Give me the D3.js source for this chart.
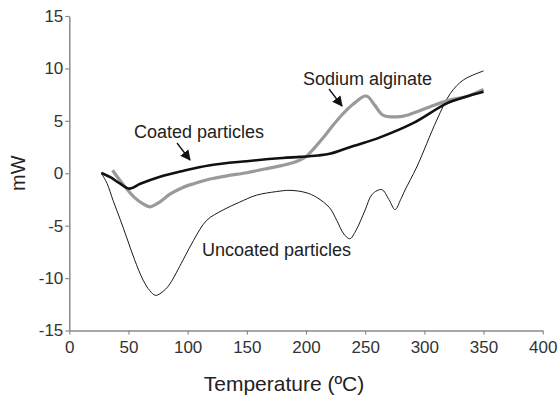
<!DOCTYPE html>
<html>
<head>
<meta charset="utf-8">
<script src="https://cdn.jsdelivr.net/npm/d3@7"></script>
<style>
  body { margin: 0; background: #fff; }
  svg { font-family: "Liberation Sans", Arial, sans-serif; }
</style>
</head>
<body>
<svg id="chart" width="559" height="400"></svg>
<script>
// DSC curves, values
const coatedTemp = [27, 35, 43, 51, 60, 76, 95, 119, 150, 180, 195, 210, 220, 240, 262, 290, 319, 335, 350];
const coatedMW   = [0.03, -0.4, -1.0, -1.47, -1.0, -0.35, 0.2, 0.77, 1.15, 1.45, 1.56, 1.7, 1.85, 2.6, 3.4, 4.75, 6.67, 7.3, 7.78];

const alginateTemp = [36.5, 45, 55, 62, 68, 75, 85, 95, 105, 119, 133, 150, 165, 180, 190, 199, 207, 215, 223, 231.5, 240, 251, 258, 265, 279.5, 292, 305, 322, 335, 350];
const alginateMW   = [0.29, -1.0, -2.3, -2.9, -3.2, -2.85, -2.0, -1.4, -1.0, -0.55, -0.25, 0.05, 0.4, 0.75, 1.05, 1.5, 2.4, 3.45, 4.6, 5.7, 6.6, 7.37, 6.5, 5.55, 5.4, 5.8, 6.35, 7.0, 7.3, 8.0];

const uncoatedTemp = [27, 32, 37, 43, 48.4, 55, 62.4, 68, 73, 80, 85, 96, 105, 116, 130, 144, 158, 175, 186.5, 200, 209, 220, 226, 232, 237, 242, 250, 256, 264, 270, 275.3, 280, 283.7, 293.6, 310.5, 321.9, 333, 350];
const uncoatedMW   = [0.03, -1.0, -2.6, -4.4, -6.1, -8.2, -10.2, -11.2, -11.65, -11.2, -10.55, -8.3, -6.4, -4.5, -3.5, -2.75, -2.1, -1.75, -1.63, -1.85, -2.3, -3.3, -4.5, -5.8, -6.25, -5.5, -3.5, -2.0, -1.56, -2.5, -3.47, -2.5, -1.6, 0.6, 5.07, 7.6, 8.9, 9.76];

const xTicks = [0, 50, 100, 150, 200, 250, 300, 350, 400];
const yTicks = [-15, -10, -5, 0, 5, 10, 15];

const svg = d3.select('#chart');

const x = d3.scaleLinear().domain([0, 400]).range([69.3, 542.7]);
const y = d3.scaleLinear().domain([-15, 15]).range([330.5, 16]);

const axisColor = '#8a8a8a';

// x axis
const gx = svg.append('g')
  .attr('transform', 'translate(0,' + y(-15) + ')')
  .call(d3.axisBottom(x).tickValues(xTicks).tickSize(4).tickSizeOuter(0).tickPadding(6));
// y axis
const gy = svg.append('g')
  .attr('transform', 'translate(' + x(0) + ',0)')
  .call(d3.axisLeft(y).tickValues(yTicks).tickSize(4).tickSizeOuter(0).tickPadding(2)
    .tickFormat(d => String(d)));

[gx, gy].forEach(g => {
  g.select('.domain').attr('stroke', axisColor).attr('stroke-width', 1.5);
  g.selectAll('.tick line').attr('stroke', axisColor).attr('stroke-width', 1.2);
  g.selectAll('.tick text')
    .attr('fill', '#333')
    .style('font-size', '17px')
    .style('font-family', '"Liberation Sans", Arial, sans-serif');
});

// axis titles
svg.append('text')
  .attr('x', 284)
  .attr('y', 391)
  .attr('text-anchor', 'middle')
  .style('font-size', '21px')
  .attr('fill', '#222')
  .text('Temperature (ºC)');

svg.append('text')
  .attr('transform', 'translate(25,' + y(0) + ') rotate(-90)')
  .attr('text-anchor', 'middle')
  .style('font-size', '20px')
  .attr('fill', '#222')
  .text('mW');

// curves
const line = d3.line()
  .x(d => x(d[0]))
  .y(d => y(d[1]))
  .curve(d3.curveCatmullRom.alpha(0.5));

const zip = (a, b) => a.map((t, i) => [t, b[i]]);

svg.append('path')
  .datum(zip(uncoatedTemp, uncoatedMW))
  .attr('d', line)
  .attr('fill', 'none')
  .attr('stroke', '#1a1a1a')
  .attr('stroke-width', 1);

svg.append('path')
  .datum(zip(alginateTemp, alginateMW))
  .attr('d', line)
  .attr('fill', 'none')
  .attr('stroke', '#9a9a9a')
  .attr('stroke-width', 3.2);

svg.append('path')
  .datum(zip(coatedTemp, coatedMW))
  .attr('d', line)
  .attr('fill', 'none')
  .attr('stroke', '#111')
  .attr('stroke-width', 2.6);

// annotations
svg.append('defs').append('marker')
  .attr('id', 'arrow')
  .attr('viewBox', '0 0 10 10')
  .attr('refX', 9).attr('refY', 5)
  .attr('markerWidth', 8).attr('markerHeight', 8)
  .attr('orient', 'auto')
  .append('path')
  .attr('d', 'M0,0 L10,5 L0,10 z')
  .attr('fill', '#111');

const labels = [
  {text: 'Sodium alginate', x: 303, y: 85, ax1: 329, ay1: 89, ax2: 342, ay2: 106},
  {text: 'Coated particles', x: 134, y: 138, ax1: 177, ay1: 143, ax2: 190, ay2: 160},
  {text: 'Uncoated particles', x: 202, y: 256}
];

labels.forEach(l => {
  svg.append('text')
    .attr('x', l.x)
    .attr('y', l.y)
    .style('font-size', '18px')
    .attr('fill', '#222')
    .text(l.text);
  if (l.ax1 !== undefined) {
    svg.append('line')
      .attr('x1', l.ax1).attr('y1', l.ay1)
      .attr('x2', l.ax2).attr('y2', l.ay2)
      .attr('stroke', '#111')
      .attr('stroke-width', 1.3)
      .attr('marker-end', 'url(#arrow)');
  }
});
</script>
</body>
</html>
